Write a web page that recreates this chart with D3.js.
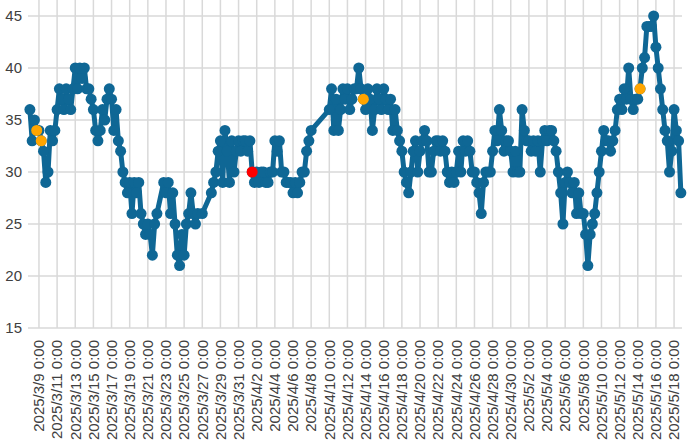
<!DOCTYPE html>
<html><head><meta charset="utf-8">
<script src="https://cdn.jsdelivr.net/npm/d3@7"></script>
<style>body{margin:0;background:#fff}svg{display:block}</style>
</head><body><svg id="c" width="700" height="447"></svg>
<script>
// ---- data ----
const startTime = "2025-03-08T00:00";
const stepHours = 6;
const values = [
 36,33,35,34,34,33,32,29,30,34,
 33,34,36,38,37,36,38,37,36,38,
 40,38,40,39,40,38,38,37,36,34,
 33,34,36,35,37,38,37,34,36,33,32,
 30,29,28,29,26,29,28,29,26,25,
 24,25,24,22,25,26,null,null,29,28,
 29,26,28,25,22,21,24,22,25,26,
 28,26,25,26,null,26,null,null,null,28,
 29,30,32,33,29,34,32,29,33,30,
 32,33,32,33,33,32,33,30,29,30,
 29,30,30,29,29,30,30,33,32,33,30,
 30,29,29,29,28,29,28,29,30,30,
 32,33,34,null,null,null,null,null,null,null,
 36,38,34,37,34,36,38,37,38,36,
 37,38,38,40,38,37,36,38,37,34,
 36,38,37,36,38,37,36,37,34,36,
 34,33,32,30,29,28,30,32,33,30,
 32,33,34,33,30,30,32,33,33,32,33,
 32,30,29,30,29,30,32,30,33,32,
 33,32,30,30,29,28,26,29,30,30,
 30,32,34,33,36,34,32,33,33,32,
 30,32,30,30,36,34,33,33,32,33,
 32,33,30,33,34,33,34,34,33,32,
 30,28,25,29,30,29,28,29,26,28,
 26,26,24,21,24,25,26,28,30,32,34,
 33,33,32,33,34,36,37,36,38,37,
 40,37,36,37,37,38,40,41,44,44,
 44,45,42,40,38,36,34,33,30,32,
 36,34,33,28
];
const orangeTimes = ["2025-03-08T18:00","2025-03-09T06:00","2025-04-13T18:00","2025-05-14T06:00"];
const redTimes = ["2025-04-01T12:00"];
const yTicks = [15,20,25,30,35,40,45];
const xTickFirst = "2025-03-09T00:00";
const xTickLast = "2025-05-18T00:00";
const xTickStepDays = 2;

// ---- setup ----
const parse = d3.utcParse("%Y-%m-%dT%H:%M");
const t0 = parse(startTime);
const series = values.map((v,i)=>({t:new Date(t0.getTime()+i*stepHours*3600e3), v}))
  .filter(d=>d.v!==null);
const key = d=>d.t.getTime();
const orangeSet = new Set(orangeTimes.map(s=>parse(s).getTime()));
const redSet = new Set(redTimes.map(s=>parse(s).getTime()));

const svg = d3.select("#c");
const x = d3.scaleUtc().domain([parse("2025-03-07T19:00"), parse("2025-05-18T21:00")]).range([28,682]);
const y = d3.scaleLinear().domain([15,45]).range([328,16]);
const topY = 0;
const grid = "#d9d9d9";
const font = "'Liberation Sans', Arial, sans-serif";
const textCol = "#404040";
const blue = "#0f6795";

const xTicks = d3.utcDay.range(parse(xTickFirst), d3.utcDay.offset(parse(xTickLast),1), xTickStepDays);
const fmt = d3.utcFormat("%Y/%-m/%-d %-H:%M");

// vertical gridlines
svg.append("g").selectAll("line").data(xTicks).join("line")
  .attr("x1",d=>x(d)).attr("x2",d=>x(d)).attr("y1",topY).attr("y2",y(15))
  .attr("stroke",grid).attr("stroke-width",1.5);
// horizontal gridlines
svg.append("g").selectAll("line").data(yTicks).join("line")
  .attr("x1",x.range()[0]).attr("x2",x.range()[1]).attr("y1",d=>y(d)).attr("y2",d=>y(d))
  .attr("stroke",grid).attr("stroke-width",1.5);

// y labels
svg.append("g").selectAll("text").data(yTicks).join("text")
  .attr("x",22).attr("y",d=>y(d)).attr("dy","0.35em").attr("text-anchor","end")
  .attr("font-family",font).attr("font-size",15).attr("fill",textCol).text(d=>d);
// x labels
svg.append("g").selectAll("text").data(xTicks).join("text")
  .attr("transform",d=>`translate(${x(d)},340) rotate(-90)`)
  .attr("dy","0.35em").attr("text-anchor","end")
  .attr("font-family",font).attr("font-size",15).attr("fill",textCol).text(d=>fmt(d));

// line
const line = d3.line().x(d=>x(d.t)).y(d=>y(d.v));
svg.append("path").datum(series).attr("d",line).attr("fill","none")
  .attr("stroke",blue).attr("stroke-width",5).attr("stroke-linejoin","round");
// markers
svg.append("g").selectAll("circle").data(series).join("circle")
  .attr("cx",d=>x(d.t)).attr("cy",d=>y(d.v)).attr("r",5.5).attr("fill",blue);
svg.append("g").selectAll("circle").data(series.filter(d=>orangeSet.has(key(d))||redSet.has(key(d)))).join("circle")
  .attr("cx",d=>x(d.t)).attr("cy",d=>y(d.v)).attr("r",5.5)
  .attr("fill",d=>redSet.has(key(d))?"#ff0000":"#ffa500");
</script></body></html>
